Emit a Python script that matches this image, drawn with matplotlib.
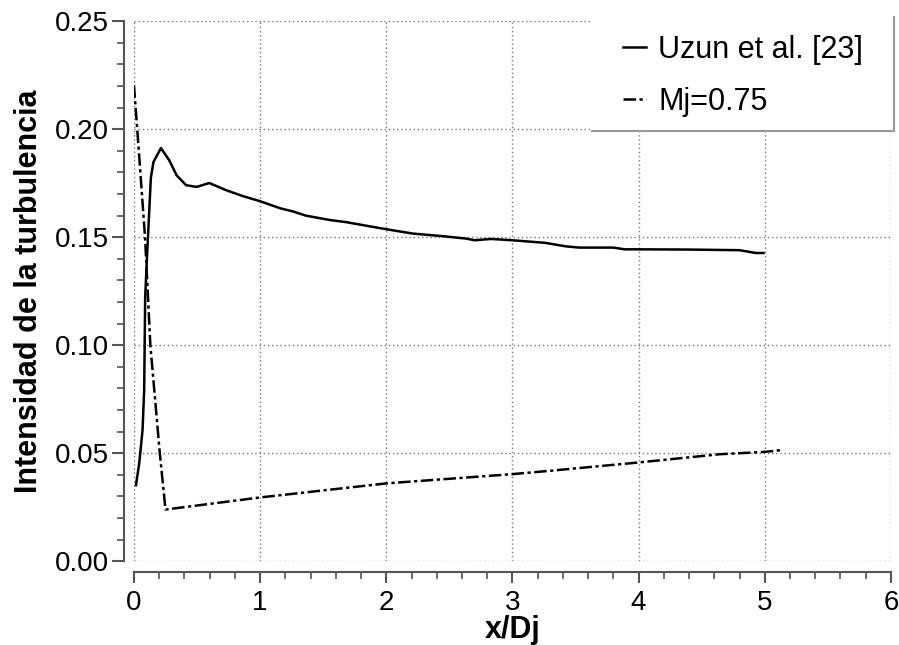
import matplotlib
matplotlib.use('Agg')
import matplotlib.pyplot as plt
from matplotlib.lines import Line2D
from matplotlib.patches import Rectangle
from matplotlib.ticker import MultipleLocator

plt.rcParams['font.family'] = ['Liberation Sans', 'DejaVu Sans']

# Uzun et al. [23] (solid)
uzun_x = [0.016, 0.042, 0.068, 0.081, 0.089, 0.103, 0.134, 0.155, 0.214, 0.28,
          0.338, 0.413, 0.497, 0.597, 0.73, 0.86, 0.993, 1.165, 1.257, 1.363,
          1.55, 1.68, 2.0, 2.21, 2.445, 2.63, 2.70, 2.83, 3.0, 3.26,
          3.42, 3.53, 3.80, 3.89, 4.0, 4.38, 4.80, 4.93, 4.99]
uzun_y = [0.0352, 0.0454, 0.0606, 0.0792, 0.122, 0.1404, 0.1775, 0.1849, 0.1913, 0.1856,
          0.1787, 0.1741, 0.1733, 0.1751, 0.1718, 0.1691, 0.1668, 0.1633, 0.162, 0.160,
          0.158, 0.157, 0.1537, 0.1517, 0.1505, 0.1494, 0.1486, 0.1492, 0.1486, 0.1474,
          0.1458, 0.1452, 0.1452, 0.1444, 0.1444, 0.1443, 0.144, 0.1427, 0.1427]

# Mj=0.75 (dash-dot)
mj_x = [0.0, 0.026, 0.088, 0.13, 0.205, 0.25, 1.0, 2.0, 3.0, 3.29, 4.0, 4.64, 5.0, 5.13]
mj_y = [0.2204, 0.200, 0.150, 0.100, 0.050, 0.0239, 0.0295, 0.036, 0.0403, 0.0418,
        0.0457, 0.0495, 0.0506, 0.0514]

fig = plt.figure(figsize=(8.99, 6.45), dpi=100)
ax = fig.add_axes([0.149, 0.130, 0.842, 0.837])

ax.plot(uzun_x, uzun_y, color='black', lw=1.8, label='Uzun et al. [23]')
ax.plot(mj_x, mj_y, color='black', lw=1.8, linestyle=(0, (5, 1.4, 1.3, 1.4)),
        label='Mj=0.75')

ax.set_xlim(0, 6)
ax.set_ylim(0, 0.25)
ax.xaxis.set_major_locator(MultipleLocator(1))
ax.xaxis.set_minor_locator(MultipleLocator(0.2))
ax.yaxis.set_major_locator(MultipleLocator(0.05))
ax.yaxis.set_minor_locator(MultipleLocator(0.01))
ax.yaxis.set_major_formatter(plt.FormatStrFormatter('%.2f'))

for s in ['top', 'right']:
    ax.spines[s].set_visible(False)
ax.spines['left'].set_position(('outward', 7))
ax.spines['bottom'].set_position(('outward', 8))
for s in ['left', 'bottom']:
    ax.spines[s].set_color('#555555')
    ax.spines[s].set_linewidth(1.5)

ax.tick_params(which='major', length=9, width=1.5, color='#555555', labelsize=20)
ax.tick_params(which='minor', length=5, width=1.2, color='#555555')
ax.tick_params(axis='y', which='major', pad=2)
ax.tick_params(axis='x', which='major', length=8, pad=5)

ax.grid(True, which='major', linestyle=(0, (1, 2)), color='#777777', lw=1.0)
ax.set_axisbelow(True)

ax.set_xlabel('x/Dj', fontsize=22, fontweight='bold', labelpad=-1)
ax.set_ylabel('Intensidad de la turbulencia', fontsize=22, fontweight='bold', labelpad=8)

leg = ax.legend(loc='upper right', bbox_to_anchor=(0.9815, 1.0), fontsize=22,
                handlelength=0.75, handletextpad=0.4, labelspacing=0.72,
                borderpad=0.45, borderaxespad=0, frameon=False)

# legend box: white, with grey line on the right and bottom
fig.canvas.draw()
bb = leg.get_window_extent()
x0, x1, y0, y1 = bb.x0 - 17, bb.x1 + 17, bb.y0, bb.y1 + 4
ax.add_patch(Rectangle((x0, y0), x1 - x0, y1 - y0, transform=None,
                       facecolor='white', edgecolor='none', zorder=4.5, clip_on=False))
ax.add_line(Line2D([x0, x1], [y0, y0], transform=None, color='#999999', lw=1.5,
                   zorder=4.6, clip_on=False))
ax.add_line(Line2D([x1, x1], [y0, y1], transform=None, color='#999999', lw=1.5,
                   zorder=4.6, clip_on=False))

fig.savefig('out.png', dpi=100)
